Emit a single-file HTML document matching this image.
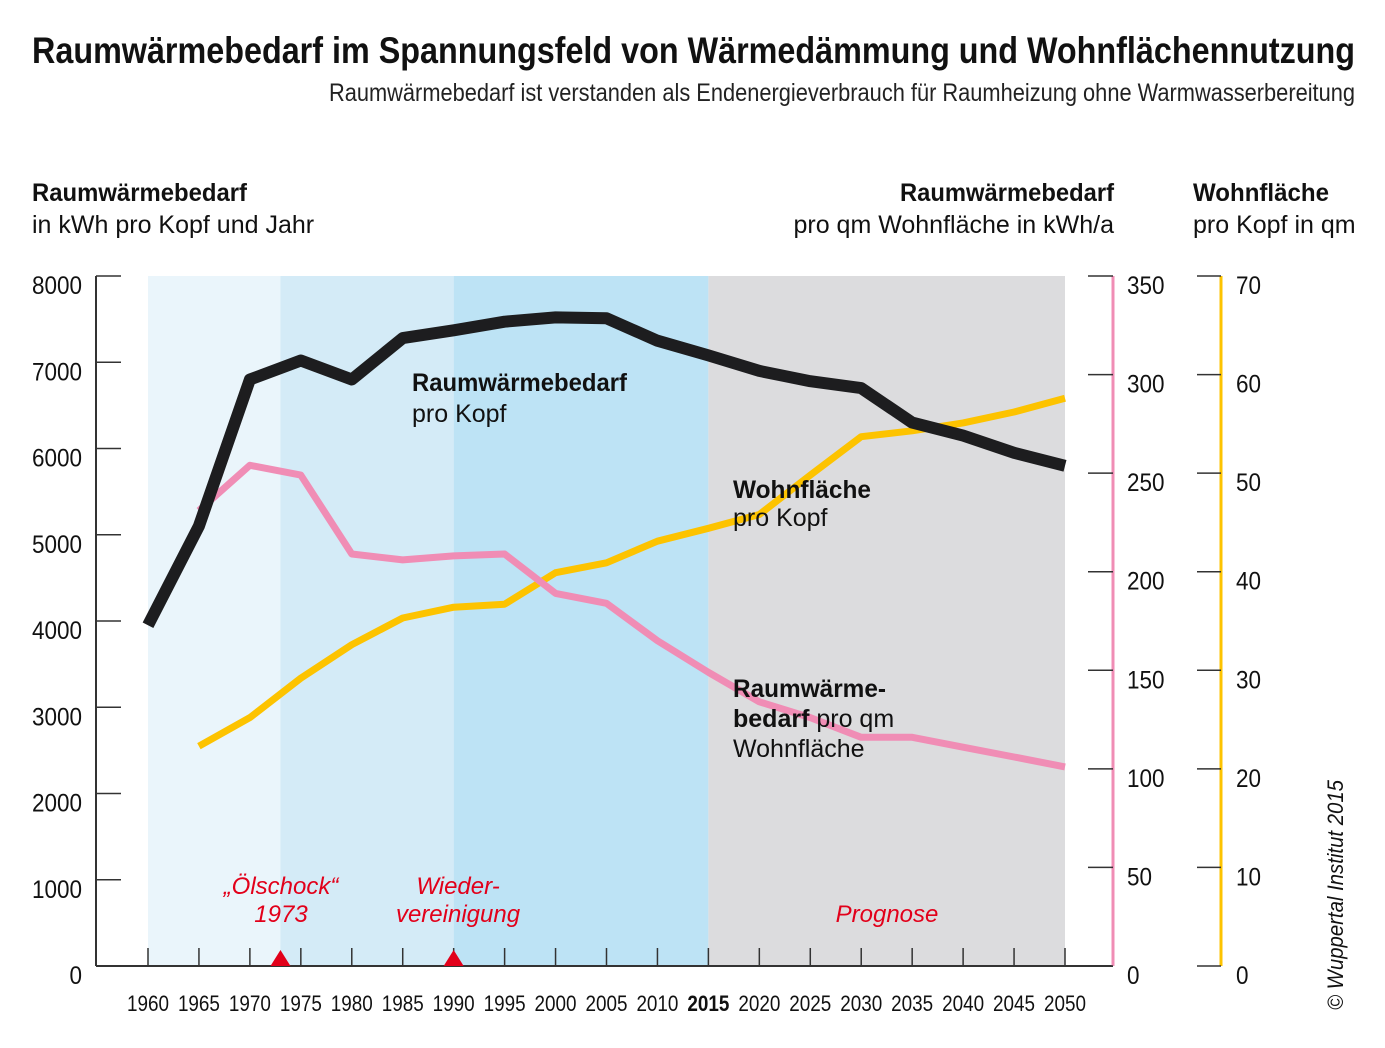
<!DOCTYPE html>
<html><head><meta charset="utf-8"><style>
body{margin:0;background:#fff;}
svg{display:block;font-family:"Liberation Sans Narrow","Liberation Sans",sans-serif;}
</style></head><body>
<svg id="chart" width="1385" height="1048" viewBox="0 0 1385 1048">
<text x="32" y="63" font-size="37" font-weight="bold" fill="#111" textLength="1323" lengthAdjust="spacingAndGlyphs">Raumwärmebedarf  im Spannungsfeld von Wärmedämmung und Wohnflächennutzung</text>
<text x="1355" y="101" font-size="25" text-anchor="end" fill="#222" textLength="1026" lengthAdjust="spacingAndGlyphs">Raumwärmebedarf ist verstanden als Endenergieverbrauch für Raumheizung ohne Warmwasserbereitung</text>
<g font-size="25" fill="#111">
<text x="32" y="201" font-weight="bold" textLength="215" lengthAdjust="spacingAndGlyphs">Raumwärmebedarf</text>
<text x="32" y="233">in kWh pro Kopf und Jahr</text>
<text x="900" y="201" font-weight="bold" textLength="214" lengthAdjust="spacingAndGlyphs">Raumwärmebedarf</text>
<text x="1114" y="233" text-anchor="end">pro qm Wohnfläche in kWh/a</text>
<text x="1193" y="201" font-weight="bold" textLength="136" lengthAdjust="spacingAndGlyphs">Wohnfläche</text>
<text x="1193" y="233">pro Kopf in qm</text>
</g>
<g id="bands"></g>
<g id="axes"></g>
<g id="series"></g>
<g font-size="25" fill="#111">
<text x="412" y="391" font-weight="bold" textLength="215" lengthAdjust="spacingAndGlyphs">Raumwärmebedarf</text>
<text x="412" y="422">pro Kopf</text>
<text x="733" y="498" font-weight="bold" textLength="138" lengthAdjust="spacingAndGlyphs">Wohnfläche</text>
<text x="733" y="526">pro Kopf</text>
<text x="733" y="697" font-weight="bold" textLength="153" lengthAdjust="spacingAndGlyphs">Raumwärme-</text>
<text x="733" y="727"><tspan font-weight="bold">bedarf</tspan> pro qm</text>
<text x="733" y="757">Wohnfläche</text>
</g>
<g font-size="24" fill="#e2001a" font-style="italic" text-anchor="middle">
<text x="281" y="894">„Ölschock“</text>
<text x="281" y="922">1973</text>
<text x="458" y="894">Wieder-</text>
<text x="458" y="922">vereinigung</text>
<text x="887" y="922">Prognose</text>
</g>
<text transform="translate(1343,1010) rotate(-90)" font-size="22" font-style="italic" fill="#111" textLength="230" lengthAdjust="spacingAndGlyphs">© Wuppertal Institut 2015</text>
</svg>
<script>
const years=[1960,1965,1970,1975,1980,1985,1990,1995,2000,2005,2010,2015,2020,2025,2030,2035,2040,2045,2050];
const perCapita=[3950,5100,6800,7020,6800,7280,7370,7470,7520,7510,7250,7080,6900,6780,6700,6300,6150,5950,5800];
const perSqmYears=[1965,1970,1975,1980,1985,1990,1995,2000,2005,2010,2015,2020,2025,2030,2035,2040,2045,2050];
const perSqm=[231,254,249,209,206,208,209,189,184,165,149,134,126,116,116,111,106,101];
const areaYears=[1965,1970,1975,1980,1985,1990,1995,2000,2005,2010,2015,2020,2025,2030,2035,2040,2045,2050];
const area=[22.3,25.2,29.2,32.6,35.3,36.4,36.7,39.9,40.9,43.1,44.4,45.8,49.8,53.7,54.3,55.1,56.2,57.6];
const leftTicks=[0,1000,2000,3000,4000,5000,6000,7000,8000];
const pinkTicks=[0,50,100,150,200,250,300,350];
const yellowTicks=[0,10,20,30,40,50,60,70];
const bandStarts=[1960,1973,1990,2015];
const bandEnds=[1973,1990,2015,2050];
const markerYears=[1973,1990];

const NS="http://www.w3.org/2000/svg";
const X0=148,X1=1065,Y0=966,Y1=276;
const xs=y=>X0+(y-1960)/90*(X1-X0);
const yL=v=>Y0-v/8000*(Y0-Y1);
const yP=v=>Y0-v/350*(Y0-Y1);
const yY=v=>Y0-v/70*(Y0-Y1);
function mk(tag,attrs,parent){const e=document.createElementNS(NS,tag);for(const k in attrs)e.setAttribute(k,attrs[k]);parent.appendChild(e);return e;}
const bands=document.getElementById('bands'),axes=document.getElementById('axes'),series=document.getElementById('series');
const bandColors=['#eaf5fb','#d4ebf7','#bde3f5','#dcdcde'];
bandStarts.forEach((s,i)=>{const r=mk('rect',{x:xs(s),y:Y1,width:xs(bandEnds[i])-xs(s),height:Y0-Y1,fill:bandColors[i]},bands);

});
let a=mk('line',{x1:96,y1:Y1,x2:96,y2:Y0,stroke:'#333','stroke-width':2},axes);

a=mk('line',{x1:96,y1:Y0,x2:1113,y2:Y0,stroke:'#333','stroke-width':2},axes);

a=mk('line',{x1:1113,y1:Y1,x2:1113,y2:Y0,stroke:'#f08db5','stroke-width':3},axes);

a=mk('line',{x1:1221,y1:Y1,x2:1221,y2:Y0,stroke:'#fdc300','stroke-width':3},axes);

const cw=12.5;
leftTicks.forEach(v=>{mk('line',{x1:96,x2:121,y1:yL(v),y2:yL(v),stroke:'#333','stroke-width':1.5},axes);
const s=String(v);
const t=mk('text',{x:82,y:yL(v)+18,'font-size':25,'text-anchor':'end',fill:'#111',textLength:s.length*cw,lengthAdjust:'spacingAndGlyphs'},axes);t.textContent=s;
});
pinkTicks.forEach(v=>{mk('line',{x1:1088,x2:1113,y1:yP(v),y2:yP(v),stroke:'#333','stroke-width':1.5},axes);
const s=String(v);
const t=mk('text',{x:1127,y:yP(v)+18,'font-size':25,fill:'#111',textLength:s.length*cw,lengthAdjust:'spacingAndGlyphs'},axes);t.textContent=s;
});
yellowTicks.forEach(v=>{mk('line',{x1:1197,x2:1221,y1:yY(v),y2:yY(v),stroke:'#333','stroke-width':1.5},axes);
const s=String(v);
const t=mk('text',{x:1236,y:yY(v)+18,'font-size':25,fill:'#111',textLength:s.length*cw,lengthAdjust:'spacingAndGlyphs'},axes);t.textContent=s;
});
years.forEach(y=>{mk('line',{x1:xs(y),x2:xs(y),y1:Y0-18,y2:Y0,stroke:'#333','stroke-width':1.5},axes);
const t=mk('text',{x:xs(y),y:1011,'font-size':22,'text-anchor':'middle',fill:'#111','font-weight':y===2015?'bold':'normal',textLength:42,lengthAdjust:'spacingAndGlyphs'},axes);t.textContent=y;
});
markerYears.forEach(y=>{const p=mk('polygon',{points:`${xs(y)-10},${Y0} ${xs(y)+10},${Y0} ${xs(y)},${Y0-16}`,fill:'#e2001a'},axes);
});
function line(xv,yv,fx,fy,color,w){const d=xv.map((x,i)=>(i?'L':'M')+xs(x).toFixed(1)+','+fy(yv[i]).toFixed(1)).join(' ');
return mk('path',{d,fill:'none',stroke:color,'stroke-width':w,'stroke-linejoin':'round','stroke-linecap':'butt'},series);}
let p=line(areaYears,area,xs,yY,'#fdc300',7);

p=line(perSqmYears,perSqm,xs,yP,'#f08db5',7);

p=line(years,perCapita,xs,yL,'#1d1d1f',12);

</script>
</body></html>
